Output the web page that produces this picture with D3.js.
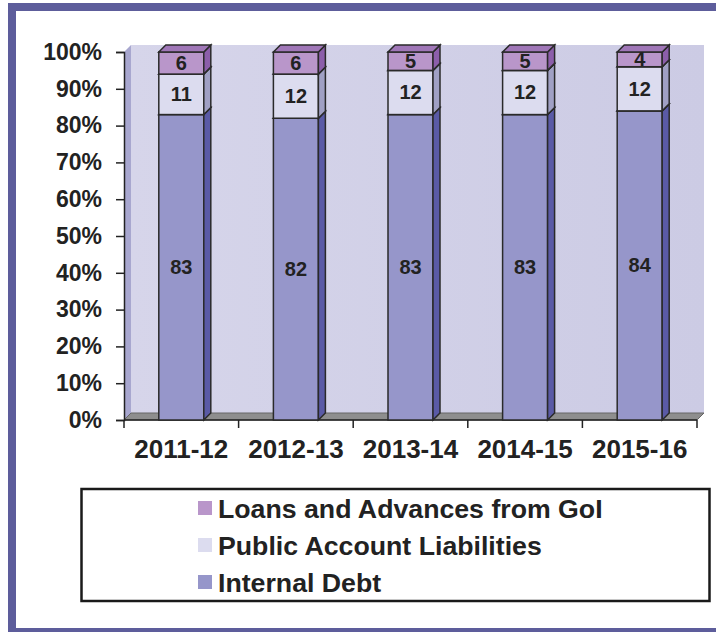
<!DOCTYPE html>
<html lang="en">
<head>
    <script src="https://d3js.org/d3.v7.min.js"></script>
    <style>
        body { margin: 0; background: white; }
        text { font-family: "Liberation Sans", Arial, sans-serif; font-weight: bold; fill: #222; }
    </style>
</head>
<body>
    <svg id="chart" width="716" height="632"></svg>
    <script>
    // data (share of total, %)
    const years = ["2011-12", "2012-13", "2013-14", "2014-15", "2015-16"];
    const internalDebt = [83, 82, 83, 83, 84];
    const publicAccount = [11, 12, 12, 12, 12];
    const loansGoI = [6, 6, 5, 5, 4];
    const yTicks = [0, 10, 20, 30, 40, 50, 60, 70, 80, 90, 100];

    const seriesNames = ["Internal Debt", "Public Account Liabilities", "Loans and Advances from GoI"];
    const frontColors = ["#9696ca", "#dcdcef", "#b996ca"];
    const sideColors = ["#5a5aa6", "#a0a0c4", "#8c5eaa"];
    const topColors = ["#7a7ab8", "#c4c4dc", "#a077b8"];

    const rows = years.map((y, i) => ({
        year: y,
        "Internal Debt": internalDebt[i],
        "Public Account Liabilities": publicAccount[i],
        "Loans and Advances from GoI": loansGoI[i]
    }));

    const svg = d3.select("#chart");
    const depth = 7;
    const x = d3.scaleBand().domain(years).range([124, 697]);
    const y = d3.scaleLinear().domain([0, 100]).range([420, 52]);
    const barW = 45;

    // outer frame
    svg.append("rect")
        .attr("x", 12).attr("y", 7).attr("width", 730).attr("height", 625)
        .attr("fill", "none").attr("stroke", "#5d5d9b").attr("stroke-width", 8);

    const defs = svg.append("defs");
    const grad = defs.append("linearGradient").attr("id", "wall").attr("x1", 0).attr("x2", 1);
    grad.append("stop").attr("offset", 0).attr("stop-color", "#d6d5ea");
    grad.append("stop").attr("offset", 1).attr("stop-color", "#cccbe4");

    const x0 = x.range()[0], x1 = x.range()[1];
    // back wall
    svg.append("rect")
        .attr("x", x0 + depth).attr("y", y(100) - depth)
        .attr("width", x1 - x0).attr("height", y(0) - y(100))
        .attr("fill", "url(#wall)");
    // left wall
    svg.append("polygon")
        .attr("points", [[x0, y(100)], [x0 + depth, y(100) - depth], [x0 + depth, y(0) - depth], [x0, y(0)]].join(" "))
        .attr("fill", "#a8a7cf");
    // floor
    svg.append("polygon")
        .attr("points", [[x0, y(0)], [x0 + depth, y(0) - depth], [x1 + depth, y(0) - depth], [x1, y(0)]].join(" "))
        .attr("fill", "#8e8e8e").attr("stroke", "#666").attr("stroke-width", 1);

    // y axis
    const yAxis = svg.append("g")
        .attr("transform", `translate(${x0},0)`)
        .call(d3.axisLeft(y).tickValues(yTicks).tickFormat(d => d + "%").tickSize(8).tickPadding(14));
    yAxis.select(".domain").attr("stroke", "#222").attr("stroke-width", 1.5);
    yAxis.selectAll(".tick line").attr("stroke", "#222").attr("stroke-width", 1.5);
    yAxis.selectAll("text").attr("font-size", 23).attr("fill", "#222")
        .style("font-family", "'Liberation Sans', Arial, sans-serif").style("font-weight", "bold");

    // x axis: ticks at category boundaries
    const xAxis = svg.append("g").attr("transform", `translate(0,${y(0)})`);
    xAxis.append("line").attr("x1", x0).attr("x2", x1).attr("stroke", "#222").attr("stroke-width", 1.5);
    const bounds = years.map(d => x(d)).concat([x1]);
    xAxis.selectAll(".xt").data(bounds).enter().append("line")
        .attr("x1", d => d).attr("x2", d => d).attr("y1", 0).attr("y2", 8)
        .attr("stroke", "#222").attr("stroke-width", 1.5);
    xAxis.selectAll(".xl").data(years).enter().append("text")
        .attr("x", d => x(d) + x.bandwidth() / 2).attr("y", 38)
        .attr("text-anchor", "middle").attr("font-size", 26)
        .text(d => d);

    // stacked 3D bars
    const stack = d3.stack().keys(seriesNames)(rows);
    stack.forEach((layer, k) => {
        const g = svg.append("g");
        layer.forEach(d => {
            const cx = x(d.data.year) + x.bandwidth() / 2;
            const bx0 = cx - barW / 2, bx1 = cx + barW / 2;
            const yt = y(d[1]), yb = y(d[0]);
            g.append("rect")
                .attr("x", bx0).attr("y", yt).attr("width", barW).attr("height", yb - yt)
                .attr("fill", frontColors[k]).attr("stroke", "#2a2a2a").attr("stroke-width", 1.5);
            g.append("polygon")
                .attr("points", [[bx1, yt], [bx1 + depth, yt - depth], [bx1 + depth, yb - depth], [bx1, yb]].join(" "))
                .attr("fill", sideColors[k]).attr("stroke", "#2a2a2a").attr("stroke-width", 1.5);
            g.append("polygon")
                .attr("points", [[bx0, yt], [bx0 + depth, yt - depth], [bx1 + depth, yt - depth], [bx1, yt]].join(" "))
                .attr("fill", topColors[k]).attr("stroke", "#2a2a2a").attr("stroke-width", 1.5);
        });
    });

    // value labels
    stack.forEach(layer => {
        svg.append("g").selectAll("text").data(layer).enter().append("text")
            .attr("x", d => x(d.data.year) + x.bandwidth() / 2)
            .attr("y", d => (y(d[0]) + y(d[1])) / 2 + 7)
            .attr("text-anchor", "middle").attr("font-size", 20)
            .text(d => d[1] - d[0]);
    });

    // legend
    svg.append("rect")
        .attr("x", 81.5).attr("y", 489).attr("width", 628).attr("height", 112)
        .attr("fill", "white").attr("stroke", "#1a1a1a").attr("stroke-width", 2.5);
    const legendOrder = [2, 1, 0];
    const legend = svg.append("g").selectAll("g").data(legendOrder).enter().append("g")
        .attr("transform", (k, i) => `translate(198,${508 + i * 37})`);
    legend.append("rect").attr("x", 0).attr("y", -7).attr("width", 14).attr("height", 14)
        .attr("fill", k => frontColors[k]);
    legend.append("text").attr("x", 20).attr("y", 9.5).attr("font-size", 26.7)
        .text(k => seriesNames[k]);
    </script>
</body>
</html>
